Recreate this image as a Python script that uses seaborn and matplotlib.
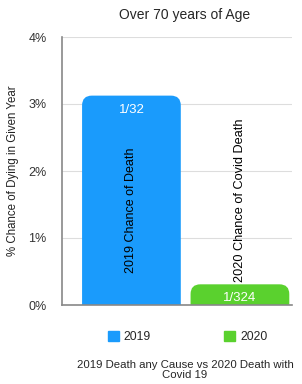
import pandas as pd
import matplotlib.pyplot as plt
import seaborn as sns
from matplotlib.patches import FancyBboxPatch

years = ['2019', '2020']
chance_pct = [100 / 32, 100 / 324]
top_labels = ['1/32', '1/324']
bar_labels = ['2019 Chance of Death', '2020 Chance of Covid Death']
colors = ['#1a9bfc', '#5ad12e']

df = pd.DataFrame({'Year': years, 'Chance': chance_pct})

sns.set_style('white')
plt.rcParams['font.family'] = ['Liberation Sans', 'DejaVu Sans']

fig = plt.figure(figsize=(3.02, 3.84), dpi=100)
ax = fig.add_axes([62 / 302, 1 - 305 / 384, 230 / 302, 268 / 384])

sns.barplot(x='Year', y='Chance', data=df, hue='Year', palette=colors,
            legend=False, width=0.91, saturation=1, ax=ax)

# swap plain bars for ones with rounded top corners
for p in list(ax.patches):
    x, w, h = p.get_x(), p.get_width(), p.get_height()
    c = p.get_facecolor()
    p.set_visible(False)
    ext = 0.2
    rb = FancyBboxPatch((x, -ext), w, h + ext,
                        boxstyle='round,pad=0,rounding_size=0.09',
                        mutation_aspect=1.62, facecolor=c, edgecolor='none',
                        zorder=2)
    ax.add_patch(rb)

ax.set_xlim(-0.64, 1.48)
ax.set_ylim(0, 4)
ax.set_yticks([0, 1, 2, 3, 4])
ax.set_yticklabels(['0%', '1%', '2%', '3%', '4%'], fontsize=9, color='#333333')
ax.set_xticks([])
ax.set_xlabel('')
ax.set_ylabel('% Chance of Dying in Given Year', fontsize=8.3, color='#222222')
ax.yaxis.set_label_coords(-43 / 230, 0.5)
ax.yaxis.grid(True, color='#dddddd', linewidth=0.8)
ax.set_axisbelow(True)
ax.tick_params(axis='y', length=0, pad=11)
for s in ['top', 'right']:
    ax.spines[s].set_visible(False)
ax.spines['left'].set_color('#888888')
ax.spines['left'].set_linewidth(1.2)
ax.spines['bottom'].set_color('#888888')
ax.spines['bottom'].set_linewidth(1.2)
ax.spines['bottom'].set_zorder(3)

for i, (v, t) in enumerate(zip(chance_pct, top_labels)):
    ax.text(i, v - 0.12, t, ha='center', va='top', color='white', fontsize=9.5, zorder=4)

ax.text(0, 1.42, bar_labels[0], rotation=90, ha='center', va='center', fontsize=9, color='black', zorder=4)
ax.text(1, 1.57, bar_labels[1], rotation=90, ha='center', va='center', fontsize=9.2, color='black', zorder=4)

fig.text(185 / 302, 1 - 15 / 384, 'Over 70 years of Age', ha='center', va='center', fontsize=10)

handles = [plt.Rectangle((0, 0), 1, 1, color=c) for c in colors]
fig.legend(handles, years, loc='center', bbox_to_anchor=(187.5 / 302, 1 - 337 / 384),
           ncol=2, frameon=False, fontsize=8.7, handlelength=0.9, handleheight=0.9,
           handletextpad=0.4, columnspacing=6.1)

fig.text(185 / 302, 1 - 370 / 384, '2019 Death any Cause vs 2020 Death with\nCovid 19',
         ha='center', va='center', fontsize=8.2, linespacing=1.1)

plt.savefig('out.png', dpi=100)
